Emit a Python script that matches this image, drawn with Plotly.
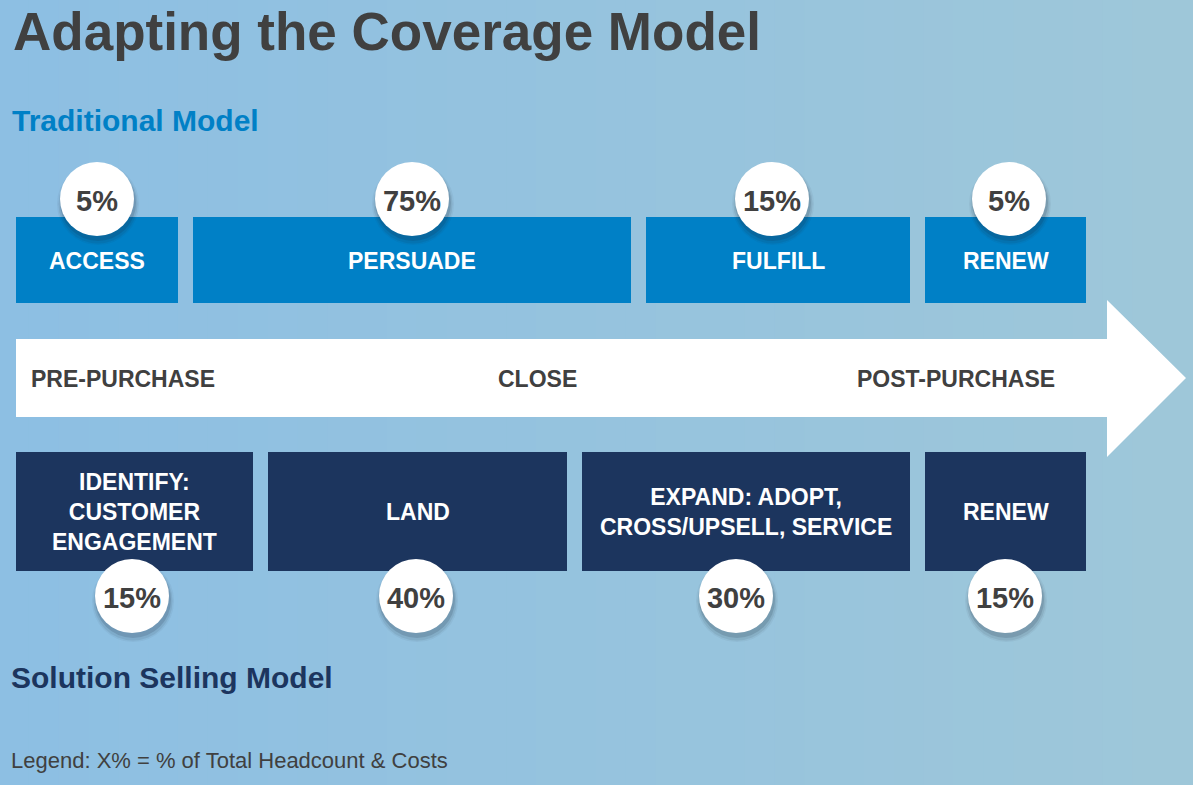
import plotly.graph_objects as go

# ---------------- data ----------------
trad_stages = ["ACCESS", "PERSUADE", "FULFILL", "RENEW"]
trad_share = [5, 75, 15, 5]
sol_stages = ["IDENTIFY:<br>CUSTOMER<br>ENGAGEMENT", "LAND",
              "EXPAND: ADOPT,<br>CROSS/UPSELL, SERVICE", "RENEW"]
sol_share = [15, 40, 30, 15]
phases = ["PRE-PURCHASE", "CLOSE", "POST-PURCHASE"]

# ---------------- layout geometry (pixels) ----------------
W, H = 1193, 785
trad_x = [(16, 178), (193, 631), (646, 910), (925, 1086)]
trad_y = (217, 303)
trad_cx = [97, 412, 772, 1009]
trad_cy = 199
sol_x = [(16, 253), (268, 567), (582, 910), (925, 1086)]
sol_y = (452, 571)
sol_cx = [132, 416, 736, 1005]
sol_cy = 596
phase_x = [123, 537, 956]
phase_y = 379

FONT = "Liberation Sans, Arial, sans-serif"
DARK = "#404040"
BLUE = "#0080C6"
NAVY = "#1C355E"

fig = go.Figure()
shapes = []
annotations = []

# background gradient strips
c0 = (141, 191, 227)
c1 = (158, 199, 217)
n = 40
for i in range(n):
    t = i / (n - 1)
    col = tuple(int(round(c0[k] + (c1[k] - c0[k]) * t)) for k in range(3))
    shapes.append(dict(type="rect", xref="x", yref="y", layer="below",
                       x0=W * i / n - 1, x1=W * (i + 1) / n + 1, y0=-5, y1=H + 5,
                       line=dict(width=0), fillcolor="rgb(%d,%d,%d)" % col))

# arrow
arrow_path = "M 16 339 L 1107 339 L 1107 300 L 1186 378 L 1107 457 L 1107 417 L 16 417 Z"
shapes.append(dict(type="path", xref="x", yref="y", path=arrow_path,
                   fillcolor="white", line=dict(width=0), layer="below"))

# boxes
for (x0, x1), lab in zip(trad_x, trad_stages):
    shapes.append(dict(type="rect", xref="x", yref="y", x0=x0, x1=x1,
                       y0=trad_y[0], y1=trad_y[1], fillcolor=BLUE,
                       line=dict(width=0), layer="below"))
    annotations.append(dict(x=(x0 + x1) / 2, y=261, xref="x", yref="y",
                            text="<b>%s</b>" % lab, showarrow=False,
                            font=dict(family=FONT, size=23, color="white")))
for (x0, x1), lab in zip(sol_x, sol_stages):
    shapes.append(dict(type="rect", xref="x", yref="y", x0=x0, x1=x1,
                       y0=sol_y[0], y1=sol_y[1], fillcolor=NAVY,
                       line=dict(width=0), layer="below"))
    annotations.append(dict(x=(x0 + x1) / 2, y=512, xref="x", yref="y",
                            text="<b>%s</b>" % lab, showarrow=False,
                            font=dict(family=FONT, size=23, color="white")))

for px, lab in zip(phase_x, phases):
    annotations.append(dict(x=px, y=phase_y, xref="x", yref="y",
                            text="<b>%s</b>" % lab, showarrow=False,
                            font=dict(family=FONT, size=23, color=DARK)))

# circles: shadow layers, white circle, then value text
def circles(cx, cy, vals):
    for s, a, dy in [(82, 0.05, 5), (79, 0.09, 5), (76, 0.15, 4)]:
        fig.add_trace(go.Scatter(x=[c + 1 for c in cx], y=[cy + dy] * len(cx),
                                 mode="markers", hoverinfo="skip",
                                 marker=dict(size=s, color="rgba(30,40,60,%s)" % a,
                                             line=dict(width=0))))
    fig.add_trace(go.Scatter(x=cx, y=[cy] * len(cx), mode="markers",
                             hoverinfo="skip",
                             marker=dict(size=74, color="white", line=dict(width=0))))
    fig.add_trace(go.Scatter(x=cx, y=[cy + 5] * len(cx), mode="text",
                             text=["<b>%d%%</b>" % v for v in vals],
                             textposition="middle center",
                             textfont=dict(family=FONT, size=29, color=DARK),
                             hoverinfo="skip"))

circles(trad_cx, trad_cy, trad_share)
circles(sol_cx, sol_cy, sol_share)

# titles
annotations.append(dict(x=11, y=31, xref="x", yref="y", xanchor="left",
                        text="<b>Adapting the Coverage Model</b>", showarrow=False,
                        font=dict(family=FONT, size=53, color=DARK)))
annotations.append(dict(x=10, y=120, xref="x", yref="y", xanchor="left",
                        text="<b>Traditional Model</b>", showarrow=False,
                        font=dict(family=FONT, size=30, color=BLUE)))
annotations.append(dict(x=9, y=677, xref="x", yref="y", xanchor="left",
                        text="<b>Solution Selling Model</b>", showarrow=False,
                        font=dict(family=FONT, size=30, color=NAVY)))
annotations.append(dict(x=9, y=760, xref="x", yref="y", xanchor="left",
                        text="Legend: X% = % of Total Headcount &amp; Costs", showarrow=False,
                        font=dict(family=FONT, size=22, color=DARK)))

fig.update_layout(
    width=W, height=H, margin=dict(l=0, r=0, t=0, b=0),
    paper_bgcolor="#8FBFE2", plot_bgcolor="#8FBFE2",
    showlegend=False, shapes=shapes, annotations=annotations,
    xaxis=dict(range=[0, W], visible=False, fixedrange=True),
    yaxis=dict(range=[H, 0], visible=False, fixedrange=True),
)
fig.write_html("out.html", config=dict(displayModeBar=False),
               post_script="document.body.style.margin='0';document.body.style.overflow='hidden';document.body.style.background='#8FBFE2';")
